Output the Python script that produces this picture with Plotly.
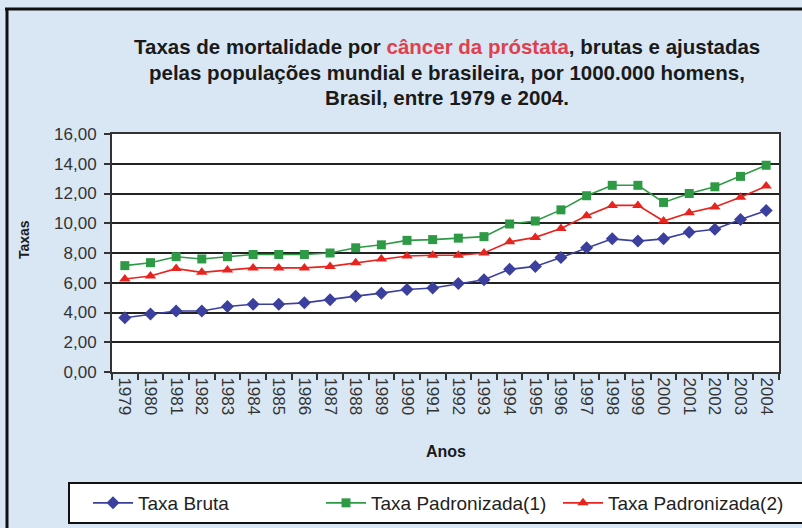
import plotly.graph_objects as go

# Anos da série
anos = [str(a) for a in range(1979, 2005)]

# Taxas por 100.000 homens
taxa_bruta = [3.65, 3.90, 4.10, 4.10, 4.40, 4.55, 4.55, 4.65, 4.85, 5.10, 5.30, 5.55, 5.65,
              5.95, 6.20, 6.90, 7.10, 7.70, 8.35, 8.95, 8.80, 8.95, 9.40, 9.60, 10.25, 10.85]
taxa_pad1 = [7.15, 7.35, 7.75, 7.60, 7.75, 7.90, 7.90, 7.90, 8.00, 8.35, 8.55, 8.85, 8.90,
             9.00, 9.10, 9.95, 10.15, 10.90, 11.85, 12.55, 12.55, 11.40, 12.00, 12.45, 13.15, 13.90]
taxa_pad2 = [6.25, 6.45, 6.95, 6.70, 6.85, 7.00, 7.00, 7.00, 7.10, 7.35, 7.60, 7.80, 7.85,
             7.85, 8.00, 8.75, 9.05, 9.65, 10.50, 11.20, 11.20, 10.15, 10.70, 11.10, 11.75, 12.50]

y_ticks = [0, 2, 4, 6, 8, 10, 12, 14, 16]

titulo = [
    "Taxas de mortalidade por <span style='color:#e0404e'>câncer da próstata</span>, brutas e ajustadas",
    "pelas populações mundial e brasileira, por 1000.000 homens,",
    "Brasil, entre 1979 e 2004.",
]

FONT = "Liberation Sans, Arial, sans-serif"

fig = go.Figure()
fig.add_trace(go.Scatter(
    x=anos, y=taxa_bruta, name="Taxa Bruta", mode="lines+markers", legend="legend",
    line=dict(color="#3b3f9e", width=1.6),
    marker=dict(symbol="diamond", size=10, color="#3b3f9e")))
fig.add_trace(go.Scatter(
    x=anos, y=taxa_pad1, name="Taxa Padronizada(1)", mode="lines+markers", legend="legend2",
    line=dict(color="#2f9a45", width=1.6),
    marker=dict(symbol="square", size=9, color="#2f9a45")))
fig.add_trace(go.Scatter(
    x=anos, y=taxa_pad2, name="Taxa Padronizada(2)", mode="lines+markers", legend="legend3",
    line=dict(color="#e8241f", width=1.6),
    marker=dict(symbol="triangle-up", size=10, color="#e8241f")))

W, H = 802, 528
L, R, T, B = 112, 23, 134, 156
pw, ph = W - L - R, H - T - B


def px(xp):
    return (xp - L) / pw


def py(yp):
    return (H - B - yp) / ph


def hline(x0, x1, y, width):
    return dict(type="line", xref="paper", yref="paper", x0=px(x0), x1=px(x1),
                y0=py(y), y1=py(y), line=dict(color="#111", width=width), layer="below")


def vline(x, y0, y1, width):
    return dict(type="line", xref="paper", yref="paper", x0=px(x), x1=px(x),
                y0=py(y0), y1=py(y1), line=dict(color="#111", width=width), layer="below")


shapes = [
    # caixa da legenda (fundo branco)
    dict(type="rect", xref="paper", yref="paper",
         x0=px(69), x1=px(830), y0=py(483), y1=py(523),
         line=dict(width=0), fillcolor="white", layer="below"),
    hline(68, 830, 483, 2), hline(68, 830, 523, 2), vline(69, 482, 524, 2),
    # moldura externa
    hline(5, 830, 9, 3), vline(7, 8, 560, 3),
]

annotations = [
    dict(text=linha, xref="paper", yref="paper", x=px(447), y=py(47 + 25 * i),
         xanchor="center", yanchor="middle", showarrow=False,
         font=dict(family=FONT, size=20.5, color="#1a1a1a", weight="bold"))
    for i, linha in enumerate(titulo)
]
annotations += [
    dict(text="Taxas", xref="paper", yref="paper", x=px(24), y=py(240),
         xanchor="center", yanchor="middle", textangle=-90, showarrow=False,
         font=dict(family=FONT, size=14, color="#1a1a1a", weight="bold")),
    dict(text="Anos", xref="paper", yref="paper", x=0.5, y=py(451),
         xanchor="center", yanchor="middle", showarrow=False,
         font=dict(family=FONT, size=16, color="#1a1a1a", weight="bold")),
]

leg_common = dict(orientation="h", xanchor="left", yanchor="middle",
                  xref="container", yref="container",
                  bgcolor="rgba(0,0,0,0)", borderwidth=0, itemwidth=40,
                  font=dict(family=FONT, size=19, color="#222"))

fig.update_layout(
    width=W, height=H,
    margin=dict(l=L, r=R, t=T, b=B, pad=0, autoexpand=False),
    paper_bgcolor="#d9e7f4",
    plot_bgcolor="white",
    separators=",.",
    font=dict(family=FONT, size=14, color="#333"),
    showlegend=True,
    legend=dict(x=88 / W, y=1 - 503 / H, **leg_common),
    legend2=dict(x=321 / W, y=1 - 503 / H, **leg_common),
    legend3=dict(x=558 / W, y=1 - 503 / H, **leg_common),
    shapes=shapes,
    annotations=annotations,
)

fig.update_xaxes(
    type="category", range=[-0.5, len(anos) - 0.5], tickangle=90, tickson="boundaries",
    ticks="outside", ticklen=6, tickwidth=1.5, tickcolor="#333",
    showline=True, linecolor="#333", linewidth=2, mirror=True,
    showgrid=False, tickfont=dict(family=FONT, size=17, color="#333"),
)
fig.update_yaxes(
    range=[0, 16], tickvals=y_ticks, tickformat=".2f",
    ticks="outside", ticklen=6, tickwidth=1.5, tickcolor="#333",
    showline=True, linecolor="#333", linewidth=2, mirror=True,
    showgrid=True, gridcolor="#222", gridwidth=2, zeroline=False,
    tickfont=dict(family=FONT, size=17, color="#333"), ticklabelstandoff=4,
)

fig.write_html("out.html")
